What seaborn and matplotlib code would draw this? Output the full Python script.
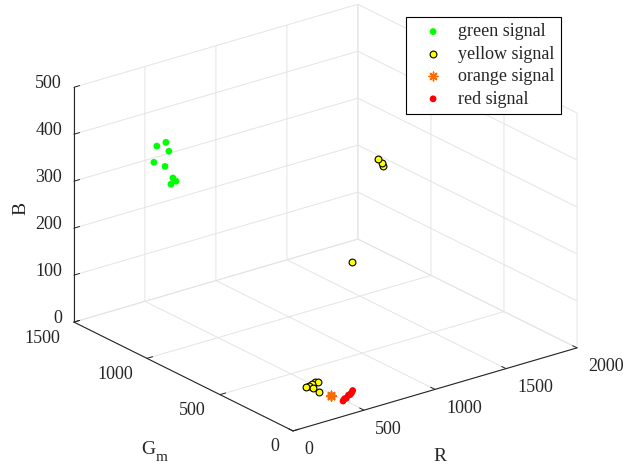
import numpy as np
import matplotlib
matplotlib.use("Agg")
import matplotlib.pyplot as plt
import seaborn as sns
from matplotlib.ticker import NullFormatter
from matplotlib.transforms import IdentityTransform
from mpl_toolkits.mplot3d import proj3d

# ---------------- data (R, G_m, B) ----------------
green_R = [220, 260, 240, 200, 230, 250, 260, 240]
green_G = [1146, 1123, 1083, 1147, 1100, 1065, 1054, 1069]
green_B = [410, 418, 407, 377, 373, 352, 346, 339]

yellow_R = [1900, 1920, 1930, 1350, 282, 305, 336, 367, 380, 304, 295]
yellow_G = [1266, 1258, 1261, 909, 186, 187, 196, 206, 198, 159, 109]
yellow_B = [215, 206, 198, 100, 40, 40, 40, 40, 40, 40, 40]

orange_R = [392, 397, 401]
orange_G = [123, 126, 128]
orange_B = [20, 20, 21]

red_R = [455, 472, 490, 515, 533, 551, 570]
red_G = [100, 107, 112, 121, 129, 136, 146]
red_B = [8, 10, 9, 12, 10, 11, 13]

R_ticks = [0, 500, 1000, 1500, 2000]
G_ticks = [0, 500, 1000, 1500]
B_ticks = [0, 100, 200, 300, 400, 500]

# ---------------- style ----------------
sns.set_style("white")
plt.rcParams["font.family"] = ["Liberation Serif", "DejaVu Serif"]
plt.rcParams["mathtext.fontset"] = "custom"
plt.rcParams["mathtext.rm"] = "Liberation Serif"
plt.rcParams["mathtext.it"] = "Liberation Serif:italic"
TXT = "#262626"

W, H = 623, 466
fig = plt.figure(figsize=(W / 100, H / 100), dpi=100)
S0 = 400.0
ax = fig.add_axes([(W / 2 - S0 / 2) / W, (H / 2 - S0 / 2) / H, S0 / W, S0 / H],
                  projection="3d")
ax.set_proj_type("ortho")
ax.view_init(elev=22.4, azim=-127.5)
ax.set_box_aspect((358, 360, 254))
ax.set_xlim(0, 2000, view_margin=0)
ax.set_ylim(0, 1500, view_margin=0)
ax.set_zlim(0, 500, view_margin=0)
ax.set_xticks(R_ticks)
ax.set_yticks(G_ticks)
ax.set_zticks(B_ticks)

for a in (ax.xaxis, ax.yaxis, ax.zaxis):
    a.set_pane_color((1, 1, 1, 0))
    a.pane.set_edgecolor("#e4e4e4")
    a._axinfo["grid"].update(color="#e4e4e4", linewidth=0.7)
    a._axinfo["tick"].update(inward_factor=0.0, outward_factor=0.25)
    a._axinfo["tick"]["linewidth"] = {True: 0.7, False: 0.5}
    a.line.set_color(TXT)
    a.line.set_linewidth(0.8)
    a.set_major_formatter(NullFormatter())
ax.grid(True)
ax.tick_params(colors=TXT)

ms = 24
ax.scatter(green_R, green_G, green_B, s=ms, c="#00ff00", edgecolors="none",
           depthshade=False, label="green signal")
ax.scatter(yellow_R, yellow_G, yellow_B, s=ms, c="#ffff00", edgecolors="black",
           linewidths=0.8, depthshade=False, label="yellow signal")
ax.scatter(orange_R, orange_G, orange_B, s=40, c="#ff6a00", marker=(8, 2, 0),
           linewidths=1.0, depthshade=False, label="orange signal")
ax.scatter(red_R, red_G, red_B, s=ms, c="#ff0000", edgecolors="none",
           depthshade=False, label="red signal")


def disp(x, y, z):
    px, py, _ = proj3d.proj_transform(x, y, z, ax.get_proj())
    return ax.transData.transform((px, py))


# ---------------- fit the 3-D box onto the target frame ----------------
fig.canvas.draw()
corners = [(0, 0, 0), (2000, 0, 0), (0, 1500, 0), (0, 0, 500)]
targets = np.array([(293, H - 431), (577, H - 348), (74, H - 322), (293, H - 196)], float)
meas = np.array([disp(*c) for c in corners])
mb, tb = meas.mean(0), targets.mean(0)
s = np.sum((meas - mb) * (targets - tb)) / np.sum((meas - mb) ** 2)
t = tb - s * mb
c1 = t + s * np.array([W / 2, H / 2])
S1 = s * S0
ax.set_position([(c1[0] - S1 / 2) / W, (c1[1] - S1 / 2) / H, S1 / W, S1 / H])
fig.canvas.draw()

# ---------------- tick labels (MATLAB-like placement) ----------------
FS = 13
ID = IdentityTransform()
for v in R_ticks:
    px, py = disp(v, 0, 0)
    fig.text(px + 11, py - 19, f"{v}", transform=ID, ha="left", va="center",
             fontsize=FS, color=TXT)
for v in G_ticks:
    px, py = disp(0, v, 0)
    fig.text(px - 14, py - 16, f"{v}", transform=ID, ha="right", va="center",
             fontsize=FS, color=TXT)
for v in B_ticks:
    px, py = disp(0, 1500, v)
    fig.text(px - 12, py + 4, f"{v}", transform=ID, ha="right", va="center",
             fontsize=FS, color=TXT)

# axis labels
fig.text(440, H - 461, "R", transform=ID, ha="center", va="baseline",
         fontsize=14, color=TXT)
fig.text(141, H - 454, "G", transform=ID, ha="left", va="baseline",
         fontsize=14, color=TXT)
fig.text(156, H - 461, "m", transform=ID, ha="left", va="baseline",
         fontsize=11, color=TXT)
fig.text(21, H - 208, "B", transform=ID, ha="center", va="center",
         rotation=90, fontsize=14, color=TXT)

leg = ax.legend(loc="upper left", bbox_to_anchor=(406 / W, 1 - 17 / H),
                bbox_transform=fig.transFigure, fontsize=FS, frameon=True,
                fancybox=False, edgecolor="black", framealpha=1,
                handletextpad=0.25, borderpad=0.35, labelspacing=0.3,
                handlelength=2.3, borderaxespad=0)
leg.get_frame().set_linewidth(0.8)

fig.savefig("out.png", dpi=100)
